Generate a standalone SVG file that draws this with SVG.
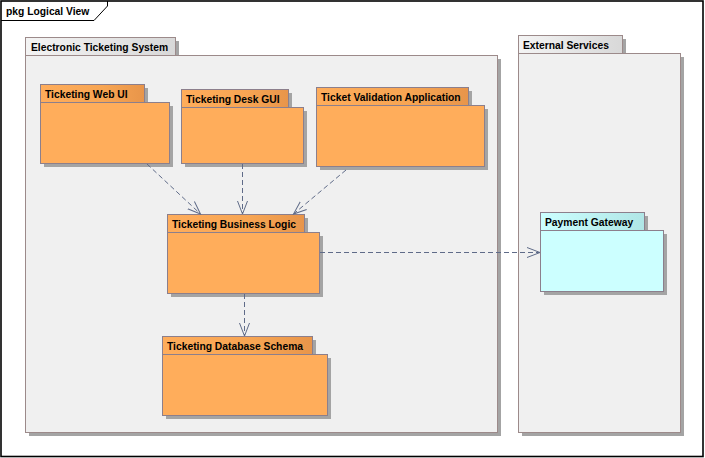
<svg xmlns="http://www.w3.org/2000/svg" width="705" height="458" viewBox="0 0 705 458">
<style>
.t{font-family:"Liberation Sans",Arial,sans-serif;font-size:10.3px;font-weight:bold;fill:#000}
.sh{fill:#a4a4a4}
.pb{fill:#f0f0f0;stroke:#9c8a8a;stroke-width:1}
.pt{fill:url(#gg);stroke:#9c8a8a;stroke-width:1}
.ob{fill:#ffad5b;stroke:#8c7f8c;stroke-width:1}
.ot{fill:url(#og);stroke:#8c7f8c;stroke-width:1}
.cb{fill:#ccffff;stroke:#8c7f8c;stroke-width:1}
.ct{fill:url(#cg);stroke:#8c7f8c;stroke-width:1}
.c{fill:none;stroke:#5f6b88;stroke-width:1;stroke-dasharray:5,3;marker-end:url(#ah)}
</style>
<defs>
<linearGradient id="og" x1="0" y1="0" x2="1" y2="0"><stop offset="0" stop-color="#ffad5b"/><stop offset="0.6" stop-color="#f7a553"/><stop offset="1" stop-color="#e8954a"/></linearGradient>
<linearGradient id="gg" x1="0" y1="0" x2="1" y2="0"><stop offset="0" stop-color="#f4f4f4"/><stop offset="1" stop-color="#d8d8d8"/></linearGradient>
<linearGradient id="cg" x1="0" y1="0" x2="1" y2="0"><stop offset="0" stop-color="#ccffff"/><stop offset="1" stop-color="#b0e6e6"/></linearGradient>
<marker id="ah" markerUnits="userSpaceOnUse" markerWidth="16" markerHeight="14" refX="13" refY="6" orient="auto" viewBox="0 0 16 12">
<path d="M0,1 L13,6 L0,11" fill="none" stroke="#5f6b88" stroke-width="1"/>
</marker>
</defs>
<rect x="0" y="0" width="705" height="458" fill="#fff"/>
<g id="frame">
<rect x="1" y="1" width="702" height="455.5" fill="none" stroke="#000" stroke-width="1.6"/>
<path d="M1,20.5 H94 L107.5,6 V1" fill="none" stroke="#000" stroke-width="1"/>
<text class="t" x="6" y="15">pkg Logical View</text>
</g>
<g id="electronic-ticketing-system">
<rect class="sh" x="29" y="41" width="150" height="18"/>
<rect class="sh" x="29" y="59" width="472" height="377"/>
<rect class="pt" x="25.5" y="37.5" width="150" height="18"/>
<rect class="pb" x="25.5" y="55.5" width="472" height="377"/>
<text class="t" x="31" y="50.5">Electronic Ticketing System</text>
</g>
<g id="external-services">
<rect class="sh" x="522" y="39" width="104" height="18"/>
<rect class="sh" x="522" y="57" width="162" height="379"/>
<rect class="pt" x="518.5" y="35.5" width="104" height="18"/>
<rect class="pb" x="518.5" y="53.5" width="162" height="379"/>
<text class="t" x="523" y="48.5">External Services</text>
</g>
<g id="ticketing-web-ui">
<rect class="sh" x="44" y="88" width="104" height="18"/>
<rect class="sh" x="44" y="106" width="129" height="61"/>
<rect class="ot" x="40.5" y="84.5" width="104" height="18"/>
<rect class="ob" x="40.5" y="102.5" width="129" height="61"/>
<text class="t" x="45" y="97.5">Ticketing Web UI</text>
</g>
<g id="ticketing-desk-gui">
<rect class="sh" x="185" y="93" width="107" height="18"/>
<rect class="sh" x="185" y="111" width="122" height="56"/>
<rect class="ot" x="181.5" y="89.5" width="107" height="18"/>
<rect class="ob" x="181.5" y="107.5" width="122" height="56"/>
<text class="t" x="186" y="102.5">Ticketing Desk GUI</text>
</g>
<g id="ticket-validation-application">
<rect class="sh" x="320" y="91" width="152" height="18"/>
<rect class="sh" x="320" y="109" width="168" height="61"/>
<rect class="ot" x="316.5" y="87.5" width="152" height="18"/>
<rect class="ob" x="316.5" y="105.5" width="168" height="61"/>
<text class="t" x="321" y="100.5">Ticket Validation Application</text>
</g>
<g id="ticketing-business-logic">
<rect class="sh" x="171" y="218" width="137" height="18"/>
<rect class="sh" x="171" y="236" width="152" height="61"/>
<rect class="ot" x="167.5" y="214.5" width="137" height="18"/>
<rect class="ob" x="167.5" y="232.5" width="152" height="61"/>
<text class="t" x="172" y="227.5">Ticketing Business Logic</text>
</g>
<g id="ticketing-database-schema">
<rect class="sh" x="166" y="340" width="150" height="18"/>
<rect class="sh" x="166" y="358" width="165" height="61"/>
<rect class="ot" x="162.5" y="336.5" width="150" height="18"/>
<rect class="ob" x="162.5" y="354.5" width="165" height="61"/>
<text class="t" x="167" y="349.5">Ticketing Database Schema</text>
</g>
<g id="payment-gateway">
<rect class="sh" x="544" y="216" width="104" height="18"/>
<rect class="sh" x="544" y="234" width="123" height="61"/>
<rect class="ct" x="540.5" y="212.5" width="104" height="18"/>
<rect class="cb" x="540.5" y="230.5" width="123" height="61"/>
<text class="t" x="545" y="225.5">Payment Gateway</text>
</g>
<g id="connectors">
<path class="c" d="M147,164 L200.5,214"/>
<path class="c" d="M242.5,164 L242.5,214"/>
<path class="c" d="M346,170 L293.5,214"/>
<path class="c" d="M244.5,294 L244.5,336"/>
<path class="c" d="M320,252.5 L540,252.5"/>
</g>
</svg>
